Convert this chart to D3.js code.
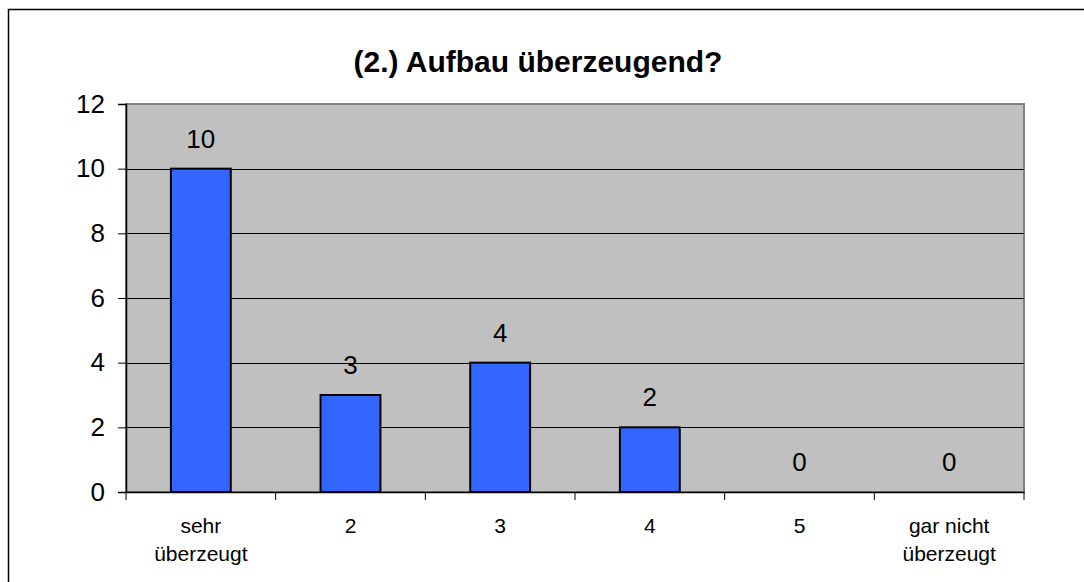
<!DOCTYPE html>
<html>
<head>
<meta charset="utf-8">
<script src="https://cdn.jsdelivr.net/npm/d3@7"></script>
<style>
  body { margin: 0; background: #fff; }
  svg { display: block; font-family: "Liberation Sans", Arial, sans-serif; }
</style>
</head>
<body>
<div id="chart"></div>
<script>
// Data
const categories = [["sehr", "überzeugt"], ["2"], ["3"], ["4"], ["5"], ["gar nicht", "überzeugt"]];
const values = [10, 3, 4, 2, 0, 0];
const yTicks = [0, 2, 4, 6, 8, 10, 12];
const title = "(2.) Aufbau überzeugend?";

const W = 1084, H = 582;
const plot = { left: 126, right: 1024, top: 104, bottom: 492 };

const svg = d3.select('#chart').append('svg')
    .attr('width', W)
    .attr('height', H);

// Outer frame
svg.append('rect')
    .attr('x', 8.5).attr('y', 9.5)
    .attr('width', W + 20).attr('height', H + 20)
    .attr('fill', '#fff')
    .attr('stroke', '#000')
    .attr('stroke-width', 1.5);

// Scales
const x = d3.scaleBand()
    .domain(d3.range(categories.length))
    .range([plot.left, plot.right])
    .paddingInner(0.6)
    .paddingOuter(0.3);

const xCat = d3.scaleBand()
    .domain(d3.range(categories.length))
    .range([plot.left, plot.right]);

const y = d3.scaleLinear()
    .domain([0, 12])
    .range([plot.bottom, plot.top]);

// Plot area
svg.append('rect')
    .attr('x', plot.left).attr('y', plot.top)
    .attr('width', plot.right - plot.left)
    .attr('height', plot.bottom - plot.top)
    .attr('fill', '#c0c0c0')
    .attr('stroke', '#808080')
    .attr('stroke-width', 2);

// Gridlines
svg.append('g')
    .selectAll('line')
    .data(yTicks.filter(d => d > 0 && d < 12))
    .join('line')
    .attr('x1', plot.left).attr('x2', plot.right)
    .attr('y1', d => Math.round(y(d)) + 0.5)
    .attr('y2', d => Math.round(y(d)) + 0.5)
    .attr('stroke', '#000')
    .attr('stroke-width', 1);

// Bars
svg.append('g')
    .selectAll('rect')
    .data(values)
    .join('rect')
    .attr('x', (d, i) => x(i))
    .attr('y', d => y(d))
    .attr('width', x.bandwidth())
    .attr('height', d => y(0) - y(d))
    .attr('fill', '#3366ff')
    .attr('stroke', '#000')
    .attr('stroke-width', 2)
    .style('display', d => d > 0 ? null : 'none');

// Value labels
svg.append('g')
    .selectAll('text')
    .data(values)
    .join('text')
    .attr('x', (d, i) => x(i) + x.bandwidth() / 2)
    .attr('y', d => y(d) - 21)
    .attr('text-anchor', 'middle')
    .attr('font-size', 26)
    .attr('fill', '#000')
    .text(d => d);

// Y axis
const yAxis = d3.axisLeft(y)
    .tickValues(yTicks)
    .tickSize(8)
    .tickPadding(13);

const yg = svg.append('g')
    .attr('transform', `translate(${plot.left},0)`)
    .call(yAxis);
yg.select('.domain').attr('stroke', '#000').attr('stroke-width', 1.5);
yg.selectAll('.tick line').attr('stroke', '#000');
yg.selectAll('.tick text')
    .attr('font-size', 26)
    .attr('fill', '#000')
    .attr('font-family', '"Liberation Sans", Arial, sans-serif');

// X axis
const xAxis = d3.axisBottom(xCat)
    .tickSize(0)
    .tickFormat('');
const xg = svg.append('g')
    .attr('transform', `translate(0,${plot.bottom})`)
    .call(xAxis);
xg.select('.domain').attr('stroke', '#000').attr('stroke-width', 1.5);
xg.selectAll('.tick').remove();

// X tick marks at category boundaries
svg.append('g')
    .selectAll('line')
    .data(d3.range(categories.length + 1))
    .join('line')
    .attr('x1', i => i < categories.length ? xCat(i) : plot.right)
    .attr('x2', i => i < categories.length ? xCat(i) : plot.right)
    .attr('y1', plot.bottom)
    .attr('y2', plot.bottom + 8)
    .attr('stroke', '#000');

// Category labels
const catText = svg.append('g')
    .selectAll('text')
    .data(categories)
    .join('text')
    .attr('x', (d, i) => xCat(i) + xCat.bandwidth() / 2)
    .attr('y', 533)
    .attr('text-anchor', 'middle')
    .attr('font-size', 21)
    .attr('fill', '#000');
catText.selectAll('tspan')
    .data(d => d)
    .join('tspan')
    .attr('x', function () { return this.parentNode.getAttribute('x'); })
    .attr('dy', (d, i) => i === 0 ? 0 : 28)
    .text(d => d);

// Title
svg.append('text')
    .attr('x', 538)
    .attr('y', 72)
    .attr('text-anchor', 'middle')
    .attr('font-size', 30)
    .attr('font-weight', 'bold')
    .attr('fill', '#000')
    .text(title);
</script>
</body>
</html>
